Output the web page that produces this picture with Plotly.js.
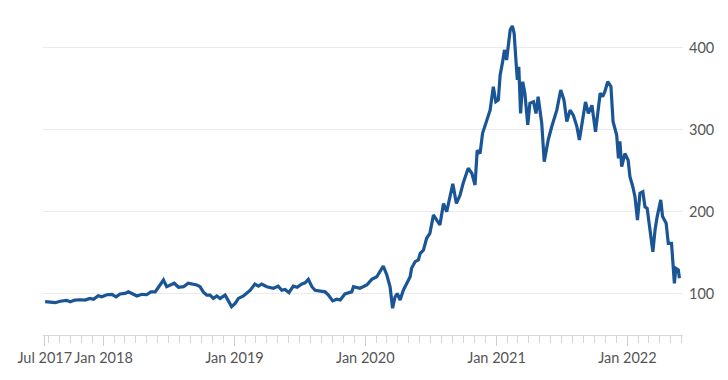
<!DOCTYPE html>
<html>
<head>
<meta charset="utf-8">
<script src="https://cdn.plot.ly/plotly-3.0.1.min.js"></script>
<style>
  html, body { margin: 0; padding: 0; background: #ffffff; }
  #chart { width: 728px; height: 380px; }
</style>
</head>
<body>
<div id="chart"></div>
<script>
// Dates of the readings
const dates = [
  "2017-07-22","2017-08-05","2017-08-19","2017-09-02","2017-09-20","2017-09-30","2017-10-13","2017-10-27",
  "2017-11-10","2017-11-24","2017-12-04","2017-12-17","2017-12-27",
  "2018-01-10","2018-01-24","2018-02-05","2018-02-16","2018-03-02","2018-03-11","2018-03-21","2018-04-04",
  "2018-04-18","2018-05-01","2018-05-13","2018-05-25","2018-06-03","2018-06-12","2018-06-17","2018-06-26",
  "2018-07-05","2018-07-17","2018-07-29","2018-08-12","2018-08-25","2018-09-08","2018-09-18","2018-09-27",
  "2018-10-06","2018-10-16","2018-10-25","2018-11-03","2018-11-13","2018-11-22","2018-12-06","2018-12-24",
  "2019-01-03","2019-01-12","2019-01-26","2019-02-14","2019-02-27","2019-03-09","2019-03-18","2019-04-01",
  "2019-04-20","2019-05-03","2019-05-13","2019-05-22","2019-06-02","2019-06-14","2019-06-25","2019-07-08",
  "2019-07-17","2019-07-26","2019-08-05","2019-08-14","2019-08-28","2019-09-11","2019-09-20","2019-10-02",
  "2019-10-13","2019-10-23","2019-11-05","2019-11-24","2019-11-29","2019-12-17",
  "2020-01-05","2020-01-19","2020-02-02","2020-02-11","2020-02-20","2020-03-01","2020-03-10","2020-03-17",
  "2020-03-24","2020-03-30","2020-04-07","2020-04-16","2020-04-25","2020-05-05","2020-05-09","2020-05-19",
  "2020-05-28","2020-06-02","2020-06-11","2020-06-20","2020-06-29","2020-07-09","2020-07-18","2020-07-27",
  "2020-08-06","2020-08-15","2020-08-24","2020-09-01","2020-09-11","2020-09-21","2020-09-30","2020-10-05",
  "2020-10-14","2020-10-24","2020-11-02","2020-11-08","2020-11-16","2020-11-23","2020-12-03","2020-12-09",
  "2020-12-14","2020-12-23","2020-12-30",
  "2021-01-06","2021-01-11","2021-01-18","2021-01-23","2021-01-29","2021-02-08","2021-02-14","2021-02-19",
  "2021-02-24","2021-02-28","2021-03-04","2021-03-09","2021-03-15","2021-03-21","2021-03-29","2021-04-04",
  "2021-04-14","2021-04-21","2021-04-27","2021-05-07","2021-05-14","2021-05-25","2021-06-04","2021-06-18",
  "2021-06-29","2021-07-08","2021-07-16","2021-07-25","2021-08-03","2021-08-13","2021-08-20","2021-08-29",
  "2021-09-06","2021-09-14","2021-09-24","2021-10-04","2021-10-17","2021-10-24","2021-10-30","2021-11-07",
  "2021-11-16","2021-11-22","2021-11-27","2021-12-02","2021-12-07","2021-12-11","2021-12-16","2021-12-25",
  "2022-01-03","2022-01-08","2022-01-16","2022-01-22","2022-01-29","2022-02-05","2022-02-13","2022-02-19",
  "2022-02-25","2022-03-03","2022-03-13","2022-03-19","2022-03-25","2022-04-04","2022-04-09","2022-04-19",
  "2022-04-25","2022-05-04","2022-05-09","2022-05-12","2022-05-16","2022-05-23","2022-05-26"
];

// Index values
const values = [
  90, 89, 88.8, 90.5, 91.7, 90, 92, 92.4,
  92, 94, 93, 97.3, 96,
  98.5, 99, 96, 99.4, 100.2, 102, 100, 97,
  99, 98.5, 102, 102, 107.6, 112.5, 116.5, 108.3,
  110.4, 112.5, 107.6, 108.3, 112.5, 111.6, 110.4, 108.3,
  102, 98, 98, 94, 97, 94, 98, 84,
  88, 94, 97, 104, 111.6, 109, 111.6, 108.3,
  106.4, 109, 104, 105, 101, 109, 107.6, 111.6,
  113, 117.3, 108.3, 104, 103.4, 102, 98, 91,
  93, 92, 99.4, 102, 108.3, 106.4,
  110.4, 117.3, 120.5, 126.6, 133.6, 122.6, 108.3, 82,
  96, 100, 92, 104, 112.5, 120.5, 130.8, 139,
  141, 149, 153, 167.5, 173.6, 196, 189.8, 183.7,
  210, 200, 218, 234, 210, 220, 235, 242.7,
  253, 246.9, 232.6, 275, 271, 295.8, 308, 318,
  324, 352.7, 334.4,
  336.5, 367, 383.3, 397.6, 385.3, 422, 426.9, 418,
  385.3, 361, 377, 320, 358.8, 344.7, 306, 332.4,
  334.4, 320, 340.5, 308, 261, 287.6, 304, 324,
  348.7, 336.5, 310, 324, 318, 304, 287.6, 314,
  334, 320, 330, 297.7, 344.7, 340.5, 346.6, 358.8,
  353, 310, 301.9, 293.7, 265, 286, 255, 271,
  263, 242.7, 230.5, 218.3, 189.8, 222.5, 224.4, 206,
  204, 181.6, 151, 177.6, 194, 214.3, 194, 185.8,
  161.3, 161.3, 124.7, 112.5, 130.8, 128.7, 118.6
];

// Axis ticks
const xTickVals = ["2017-07-21","2018-01-01","2019-01-01","2020-01-01","2021-01-01","2022-01-01"];
const xTickText = ["Jul 2017","Jan 2018","Jan 2019","Jan 2020","Jan 2021","Jan 2022"];
const yTickVals = [100, 200, 300, 400];

const trace = {
  x: dates,
  y: values,
  type: "scatter",
  mode: "lines",
  line: { color: "#1a5596", width: 3.2, shape: "linear" },
  hoverinfo: "x+y"
};

const layout = {
  width: 728,
  height: 380,
  margin: { l: 43, r: 45, t: 10, b: 45 },
  paper_bgcolor: "#ffffff",
  plot_bgcolor: "#ffffff",
  showlegend: false,
  font: { family: "Lato, 'Open Sans', sans-serif", size: 14, color: "#555555" },
  xaxis: {
    type: "date",
    range: ["2017-07-16", "2022-06-05"],
    tickmode: "array",
    tickvals: xTickVals,
    ticktext: xTickText,
    ticks: "outside",
    ticklen: 10,
    tickwidth: 1,
    tickcolor: "#cfcfcf",
    showline: true,
    linecolor: "#d6d6d6",
    linewidth: 1,
    showgrid: false,
    zeroline: false,
    tickfont: { family: "Lato, 'Open Sans', sans-serif", size: 14.5, color: "#555555" },
    minor: {
      dtick: "M1",
      tick0: "2017-01-01",
      ticks: "outside",
      ticklen: 7,
      tickwidth: 1,
      tickcolor: "#d6d6d6",
      showgrid: false
    },
    fixedrange: true
  },
  yaxis: {
    side: "right",
    range: [49.3, 446.4],
    tickmode: "array",
    tickvals: yTickVals,
    ticks: "",
    ticklabelstandoff: 5,
    showline: false,
    showgrid: true,
    gridcolor: "#ebebeb",
    gridwidth: 1,
    zeroline: false,
    tickfont: { family: "Lato, 'Open Sans', sans-serif", size: 14.5, color: "#555555" },
    fixedrange: true
  }
};

Plotly.newPlot("chart", [trace], layout, { displayModeBar: false, staticPlot: true });
</script>
</body>
</html>
